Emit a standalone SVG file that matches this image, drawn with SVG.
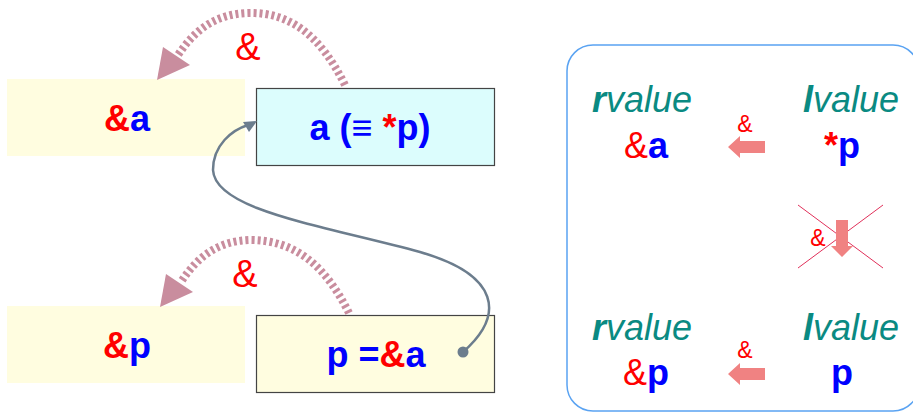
<svg xmlns="http://www.w3.org/2000/svg" width="913" height="413" viewBox="0 0 913 413">
<style>
.t{font-family:"Liberation Sans",Arial,sans-serif}
.b{font-weight:bold}
.red{fill:#ff0000}
.blue{fill:#0000ff}
.teal{fill:#0a8a82;font-style:italic}
.arc{fill:none;stroke:#c98d9e;stroke-width:8;stroke-dasharray:3 3}
.head{fill:#c98d9e}
.fat{fill:#f08282}
</style>
<g id="box-amp-a">
<rect x="7" y="79" width="238" height="77" fill="#fffde0"/>
<text class="t b" x="127" y="131" font-size="36" text-anchor="middle"><tspan class="red">&amp;</tspan><tspan class="blue">a</tspan></text>
</g>
<g id="box-a">
<rect x="256.5" y="88.5" width="238" height="77" fill="#dcfdfd" stroke="#444" stroke-width="1.2"/>
<text class="t b" x="370" y="140" font-size="36" text-anchor="middle"><tspan class="blue">a (≡ </tspan><tspan class="red">*</tspan><tspan class="blue">p)</tspan></text>
</g>
<g id="box-amp-p">
<rect x="7" y="306" width="238" height="77" fill="#fffde0"/>
<text class="t b" x="127" y="358" font-size="36" text-anchor="middle"><tspan class="red">&amp;</tspan><tspan class="blue">p</tspan></text>
</g>
<g id="box-p">
<rect x="256.5" y="315.5" width="238" height="77" fill="#fffde0" stroke="#444" stroke-width="1.2"/>
<text class="t b" x="376" y="367" font-size="36" text-anchor="middle"><tspan class="blue">p =</tspan><tspan class="red">&amp;</tspan><tspan class="blue">a</tspan></text>
</g>
<g id="connectors">
<path class="arc" d="M345,85 C320,35 290,12 248,13 C215,14 195,30 178,55"/>
<polygon class="head" points="157,80 163,47 190,65"/>
<text class="t red" x="248" y="60" font-size="38" text-anchor="middle">&amp;</text>
<path class="arc" d="M349,313 C325,265 295,240 250,240 C218,241 198,256 181,282"/>
<polygon class="head" points="160,307 166,274 193,292"/>
<text class="t red" x="245" y="287" font-size="38" text-anchor="middle">&amp;</text>
<path d="M463,352 C505,315 500,275 420,252 C320,225 215,210 213,170 C213,145 232,130 248,125" fill="none" stroke="#6c7d8d" stroke-width="2.5"/>
<polygon points="257,121 243,122 249,132" fill="#6c7d8d"/>
<circle cx="463" cy="352" r="5.5" fill="#6c7d8d"/>
</g>
<g id="panel">
<rect x="567" y="45" width="352" height="366" rx="26" fill="none" stroke="#5aa3f2" stroke-width="1.5"/>
<text class="t teal" x="642" y="112" font-size="36" text-anchor="middle"><tspan font-weight="bold">r</tspan>value</text>
<text class="t teal" x="851" y="112" font-size="36" text-anchor="middle"><tspan font-weight="bold">l</tspan>value</text>
<text class="t" x="646" y="158" font-size="36" text-anchor="middle"><tspan class="red">&amp;</tspan><tspan class="blue b">a</tspan></text>
<text class="t b" x="842" y="158" font-size="36" text-anchor="middle"><tspan class="red">*</tspan><tspan class="blue">p</tspan></text>
<text class="t red" x="745" y="132" font-size="23" text-anchor="middle">&amp;</text>
<polygon class="fat" points="728,147 740,136 740,141 765,141 765,153 740,153 740,158"/>
<line x1="798" y1="205" x2="883" y2="268" stroke="#e0305a" stroke-width="1"/>
<line x1="883" y1="205" x2="798" y2="268" stroke="#e0305a" stroke-width="1"/>
<polygon class="fat" points="836,220 848,220 848,246 853,246 842,257 831,246 836,246"/>
<text class="t red" x="818" y="246" font-size="23" text-anchor="middle">&amp;</text>
<text class="t teal" x="642" y="340" font-size="36" text-anchor="middle"><tspan font-weight="bold">r</tspan>value</text>
<text class="t teal" x="851" y="340" font-size="36" text-anchor="middle"><tspan font-weight="bold">l</tspan>value</text>
<text class="t" x="646" y="385" font-size="36" text-anchor="middle"><tspan class="red">&amp;</tspan><tspan class="blue b">p</tspan></text>
<text class="t b blue" x="842" y="385" font-size="36" text-anchor="middle">p</text>
<text class="t red" x="745" y="358" font-size="23" text-anchor="middle">&amp;</text>
<polygon class="fat" points="728,374 740,363 740,368 765,368 765,380 740,380 740,385"/>
</g>
</svg>
